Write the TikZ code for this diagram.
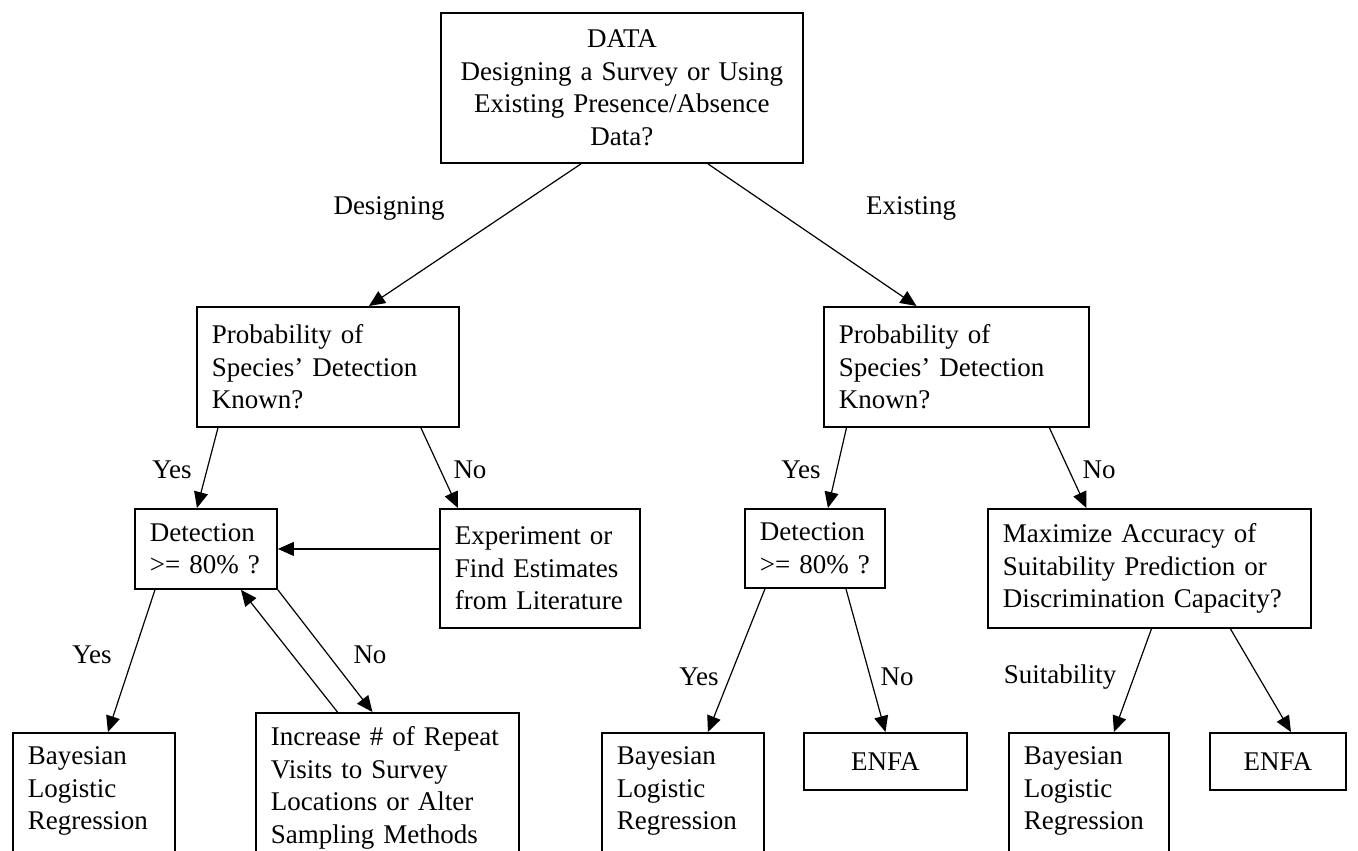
\documentclass[tikz,border=0pt]{standalone}
\usepackage{fontspec}
\setmainfont{Liberation Serif}
\usetikzlibrary{arrows.meta}

\begin{document}
\begin{tikzpicture}[x=1pt, y=-1pt, font=\fontsize{27}{32.5}\selectfont,
  box/.style={draw, line width=1.9pt, anchor=north west, inner xsep=15pt, inner ysep=4pt, align=left},
  tail/.style={text depth=110pt, inner ysep=14pt},
  arr/.style={line width=1.2pt, -{Triangle[length=16pt,width=14pt]}},
  lbl/.style={inner sep=0pt}]
  \useasboundingbox (0,0) rectangle (1358,851);

  % question boxes
  \node[box, align=center, text width=332pt, minimum height=150pt] (data) at (440,12)
    {DATA\\Designing a Survey or Using\\Existing Presence/Absence\\Data?};
  \node[box, text width=232pt, minimum height=120pt] (probL) at (196,306)
    {Probability of\\Species' Detection\\Known?};
  \node[box, text width=235pt, minimum height=120pt] (probR) at (823,306)
    {Probability of\\Species' Detection\\Known?};
  \node[box, text width=112pt, minimum height=80pt] (detL) at (134,508) {Detection\\>= 80\%~?};
  \node[box, text width=170pt, minimum height=119pt] (exper) at (439,508)
    {Experiment or\\Find Estimates\\from Literature};
  \node[box, text width=110pt, minimum height=79pt] (detR) at (744,508) {Detection\\>= 80\%~?};
  \node[box, text width=293pt, minimum height=119pt] (maxi) at (987,508)
    {Maximize Accuracy of\\Suitability Prediction or\\Discrimination Capacity?};

  % end boxes
  \node[box, tail, text width=132pt] (bayL) at (12,732) {Bayesian\\Logistic\\Regression};
  \node[box, tail, text width=233pt] (incr) at (255,712)
    {Increase \# of Repeat\\Visits to Survey\\Locations or Alter\\Sampling Methods};
  \node[box, tail, text width=132pt] (bayM) at (601,732) {Bayesian\\Logistic\\Regression};
  \node[box, align=center, text width=133pt, minimum height=57pt] (enfaM) at (803,732) {ENFA};
  \node[box, tail, text width=130pt] (bayR) at (1008,732) {Bayesian\\Logistic\\Regression};
  \node[box, align=center, text width=106pt, minimum height=57pt] (enfaR) at (1209,732) {ENFA};

  % connectors
  \draw[arr] ([xshift=-41pt]data.south) -- ([xshift=41pt]probL.north);
  \draw[arr] ([xshift=86pt]data.south) -- ([xshift=-40pt]probR.north);
  \draw[arr] ([xshift=-110pt]probL.south) -- ([xshift=-9pt]detL.north);
  \draw[arr] ([xshift=93pt]probL.south) -- ([xshift=-82pt]exper.north);
  \draw[arr] (exper.west |- detL.east) -- (detL.east);
  \draw[arr] ([xshift=-51pt]detL.south) -- ([xshift=14pt]bayL.north);
  \draw[arr] (detL.south east) -- ([xshift=-15pt]incr.north);
  \draw[arr] ([xshift=-50pt]incr.north) -- ([xshift=35pt]detL.south);
  \draw[arr] ([xshift=-110pt]probR.south) -- ([xshift=13pt]detR.north);
  \draw[arr] ([xshift=93pt]probR.south) -- ([xshift=-63pt]maxi.north);
  \draw[arr] ([xshift=-50pt]detR.south) -- ([xshift=25pt]bayM.north);
  \draw[arr] ([xshift=31pt]detR.south) -- (enfaM.north);
  \draw[arr] ([xshift=2pt]maxi.south) -- ([xshift=25pt]bayR.north);
  \draw[arr] ([xshift=81pt]maxi.south) -- ([xshift=13pt]enfaR.north);

  % branch labels
  \node[lbl] (lDesign) at (389,208) {Designing};
  \node[lbl] (lExist) at (911,208) {Existing};
  \node[lbl] (lYes1) at (172,470) {Yes};
  \node[lbl] (lNo1) at (470,470) {No};
  \node[lbl] (lYes2) at (801,470) {Yes};
  \node[lbl] (lNo2) at (1099,470) {No};
  \node[lbl] (lYes3) at (92,655) {Yes};
  \node[lbl] (lNo3) at (370,655) {No};
  \node[lbl] (lYes4) at (699,677) {Yes};
  \node[lbl] (lNo4) at (897,677) {No};
  \node[lbl] (lSuit) at (1060,677) {Suitability};
\end{tikzpicture}
\end{document}
